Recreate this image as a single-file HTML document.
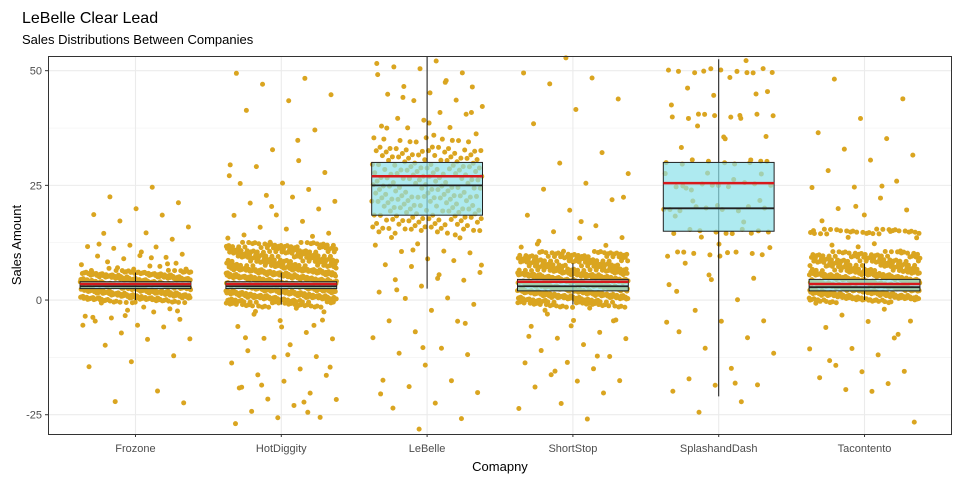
<!DOCTYPE html>
<html><head><meta charset="utf-8"><style>
body{margin:0;background:#fff;font-family:"Liberation Sans",sans-serif}
</style></head><body>
<svg id="chart" width="960" height="480" xmlns="http://www.w3.org/2000/svg" font-family="Liberation Sans, sans-serif">
<text x="22" y="23" font-size="16" fill="#000">LeBelle Clear Lead</text>
<text x="22" y="44" font-size="13" fill="#000">Sales Distributions Between Companies</text>
<g id="grid"></g><g id="pts"></g><g id="boxes"></g>
<rect x="48.5" y="56.5" width="903" height="378" fill="none" stroke="#333" stroke-width="1"/>
<g id="axes"></g>
<text x="500" y="471" font-size="13" text-anchor="middle">Comapny</text>
<text transform="translate(21,245) rotate(-90)" font-size="13" text-anchor="middle">Sales Amount</text>
</svg>
<script>
const categories=["Frozone","HotDiggity","LeBelle","ShortStop","SplashandDash","Tacontento"];
const yTicks=[-25,0,25,50];
const q1=[2.5,2.5,18.5,2,15,2];
const median=[3,3,25,3,20,2.8];
const q3=[4,4,30,4.5,30,4.5];
const mean=[3.5,3.5,27,4,25.5,3.5];
const whiskerLow=[0,-1,2.5,-1,-21,0];
const whiskerHigh=[6,6,53.5,8,52.5,8];
const coreCopies=[30,30,10,30,9,28];
const coreFrozone=[0,0.5,1,1.5,2,2.5,3,3.5,4,4.5,5,5.5,6];
const coreHot=[-1,0,0.5,1,1.5,2,2.5,3,3.5,4,4.5,5,5.5,6,6.5,7,8,9,10,11,12];
const coreLe=[15,16,17,18,19,20,21,22,23,24,25,26,27,28,29,30,31,32,33,35];
const coreShort=[-1,0,0.5,1,1.5,2,2.5,3,3.5,4,4.5,5,5.5,6,7,8,9,10];
const coreSplash=[50,40,30,25,20,15,10];
const coreTaco=[0,0.5,1,1.5,2,2.5,3,3.5,4,4.5,5,5.5,6,7,8,9,10,15];
const outFrozone=[25,22,21,20,19,18,17,16,15,14,13,12,12,11,11,10,10,9,9,9,8,8,8,8,7,7,7,7,7,-1,-1,-2,-2,-3,-3,-4,-4,-5,-5,-6,-7,-8,-9,-10,-12,-13,-15,-20,-22,-22,10,12,8,-3,-6,9,7,-2,-1,-4];
const outHot=[50,48,47,45,44,41,37,33,30,30,29,28,26,25,24,23,22,22,21,20,19,18,17,16,15,15,14,14,13,13,-2,-3,-4,-5,-6,-7,-8,-9,-10,-11,-12,-13,-14,-15,-16,-17,-18,-19,-20,-21,-22,-23,-24,-25,-26,-27,-22,-18,-15,-12,-8,-5,20,27,35,-2,-3,-6,-19,-24];
const outLe=[53,52,51,50,50,49,48,47,46,45,45,44,43,42,41,40,40,39,38,38,37,36,36,14,13,12,12,11,10,10,9,8,8,7,6,5,5,4,3,2,1,0,-1,-2,-4,-5,-7,-8,-10,-12,-12,-14,-17,-18,-19,-20,-22,-24,-26,-28,52,47,44,41,39,37,14,11,8,5,2,-5,-10,-21];
const outShort=[53,50,48,47,44,42,38,32,30,28,25,24,22,20,18,16,15,14,13,12,12,11,11,-2,-3,-4,-5,-6,-7,-8,-9,-10,-11,-12,-13,-14,-15,-16,-17,-18,-19,-20,-22,-24,-26,-2,-4,-6,-8,-12,-15,22,17,13];
const outSplash=[52,50,50,48,46,45,45,42,40,38,36,35,33,30,28,27,26,24,22,20,18,17,14,12,10,8,5,5,3,0,-2,-4,-5,-7,-8,-10,-12,-15,-17,-18,-19,-20,-22,-24,45,35,25,15,5,-5,-18,22,27,12,2];
const outTaco=[48,44,40,36,35,33,32,30,28,26,25,24,22,20,20,18,17,15,14,13,12,12,11,11,-1,-2,-3,-4,-5,-6,-8,-10,-11,-12,-14,-15,-16,-17,-18,-19,-27,-20,-13,-7,20,15,25];
const coreData=[coreFrozone,coreHot,coreLe,coreShort,coreSplash,coreTaco];
const outData=[outFrozone,outHot,outLe,outShort,outSplash,outTaco];

const NS="http://www.w3.org/2000/svg";
const px0=48,px1=952,py0=56,py1=434,yMin=-29.2,yMax=53.2;
const band=(px1-px0)/6.2;
const xS=i=>px0+band*(i+0.6);
const yS=v=>py1-(v-yMin)/(yMax-yMin)*(py1-py0);
function mk(p,tag,a){const e=document.createElementNS(NS,tag);for(const k in a)e.setAttribute(k,a[k]);p.appendChild(e);return e;}
const grid=document.getElementById('grid'),axes=document.getElementById('axes');
[-12.5,12.5,37.5].forEach(v=>{const l=mk(grid,'line',{x1:px0,x2:px1,y1:yS(v),y2:yS(v),stroke:'#f2f2f2','stroke-width':0.6});

});
yTicks.forEach(v=>{const l=mk(grid,'line',{x1:px0,x2:px1,y1:yS(v),y2:yS(v),stroke:'#ebebeb','stroke-width':1.1});


const t=mk(axes,'text',{x:42,y:yS(v)+4,'font-size':11,fill:'#4d4d4d','text-anchor':'end'});t.textContent=v;


const tk=mk(axes,'line',{x1:45,x2:48,y1:yS(v),y2:yS(v),stroke:'#333'});

});
categories.forEach((c,i)=>{const l=mk(grid,'line',{x1:xS(i),x2:xS(i),y1:py0,y2:py1,stroke:'#ebebeb','stroke-width':1.1});


const t=mk(axes,'text',{x:xS(i),y:452,'font-size':11,fill:'#4d4d4d','text-anchor':'middle'});t.textContent=c;


const tk=mk(axes,'line',{x1:xS(i),x2:xS(i),y1:434,y2:437,stroke:'#333'});

});
const pts=document.getElementById('pts');
const halfW=band*0.38;
let k=0;
function jit(){k++;return ((k*0.6180339887)%1)*2-1;}
function jy(){return (((k*0.7548776662)%1)*2-1)*0.6;}
function dot(i,v){const j=jit();const cy=yS(v+jy());if(cy<py0||cy>py1)return;
const c=mk(pts,'circle',{cx:xS(i)+j*halfW,cy:cy,r:2.5,fill:'#DAA520'});

}
categories.forEach((c,i)=>{coreData[i].forEach(v=>{for(let n=0;n<coreCopies[i];n++)dot(i,v);});outData[i].forEach(v=>dot(i,v));});
const boxes=document.getElementById('boxes');
const bw=band*0.76;
categories.forEach((c,i)=>{const x=xS(i);
const w=mk(boxes,'line',{x1:x,x2:x,y1:yS(whiskerLow[i]),y2:Math.max(py0,yS(whiskerHigh[i])),stroke:'#111','stroke-width':1});


const r=mk(boxes,'rect',{x:x-bw/2,y:yS(q3[i]),width:bw,height:yS(q1[i])-yS(q3[i]),fill:'rgb(139,225,233)','fill-opacity':0.7,stroke:'#222','stroke-width':1});


const m=mk(boxes,'line',{x1:x-bw/2,x2:x+bw/2,y1:yS(median[i]),y2:yS(median[i]),stroke:'#222','stroke-width':1.8});


const mn=mk(boxes,'line',{x1:x-bw/2,x2:x+bw/2,y1:yS(mean[i]),y2:yS(mean[i]),stroke:'#d7191c','stroke-width':2.5});

});
</script>
</body></html>
